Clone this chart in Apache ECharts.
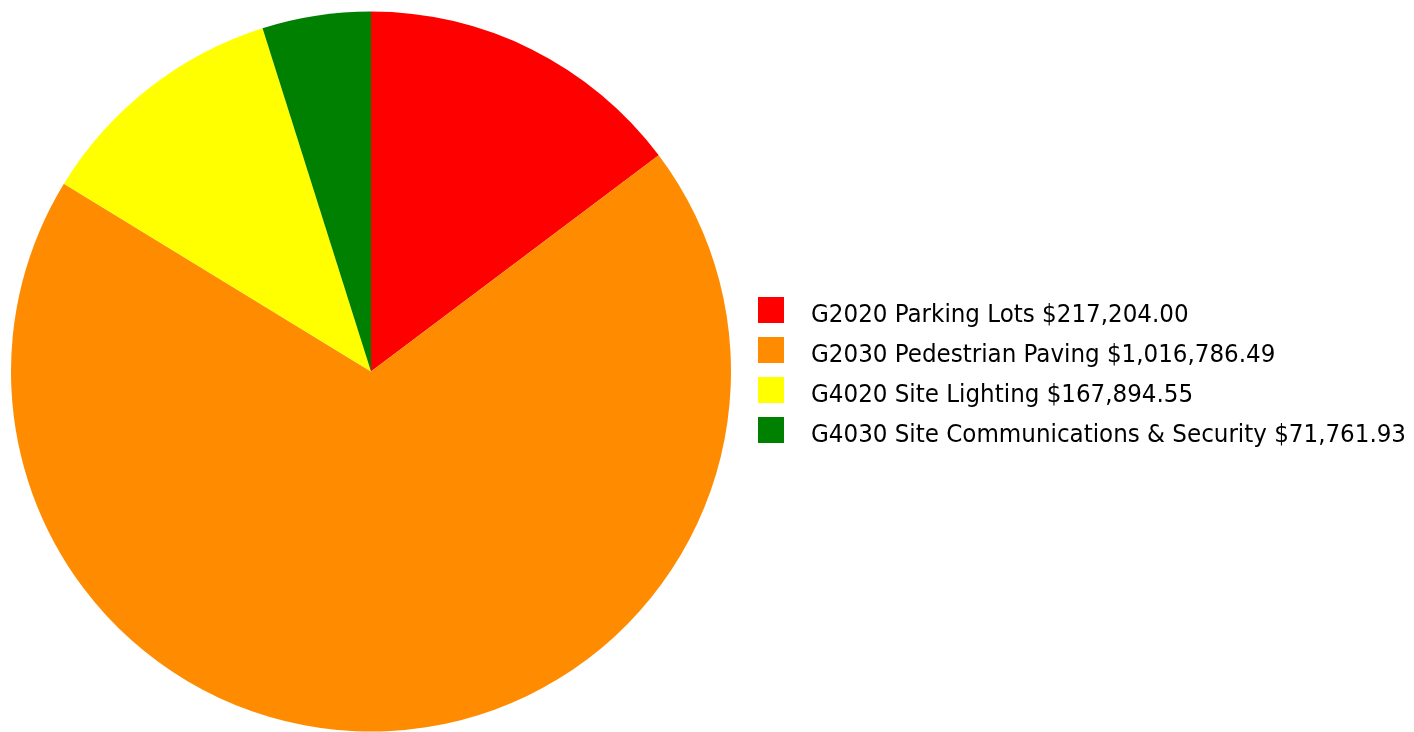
<!DOCTYPE html>
<html>
<head>
<meta charset="utf-8">
<style>
  html, body { margin: 0; padding: 0; background: #ffffff; }
  #chart { width: 1414px; height: 732px; }
</style>
<script src="https://cdn.jsdelivr.net/npm/echarts@6/dist/echarts.min.js"></script>
</head>
<body>
<div id="chart"></div>
<script>
// Cost breakdown by element
const categories = [
  'G2020 Parking Lots',
  'G2030 Pedestrian Paving',
  'G4020 Site Lighting',
  'G4030 Site Communications & Security'
];
const costs = [217204.00, 1016786.49, 167894.55, 71761.93];
const colors = ['#ff0000', '#ff8c00', '#ffff00', '#008000'];

function money(v) {
  const parts = v.toFixed(2).split('.');
  parts[0] = parts[0].replace(/\B(?=(\d{3})+(?!\d))/g, ',');
  return '$' + parts.join('.');
}

const valueByName = {};
categories.forEach((c, i) => { valueByName[c] = costs[i]; });

const labelFont = {
  fontFamily: 'DejaVu Sans Condensed',
  fontSize: 25.6,
  lineHeight: 26,
  color: '#000000'
};

const chart = echarts.init(document.getElementById('chart'), null, { renderer: 'canvas' });
chart.setOption({
  animation: false,
  color: colors,
  legend: {
    orient: 'vertical',
    left: 758,
    top: 292,
    padding: 0,
    itemWidth: 26,
    itemHeight: 26,
    itemGap: 4,
    icon: 'rect',
    selectedMode: false,
    textStyle: Object.assign({
      padding: [0, 0, 0, 22],
      rich: {
        // top padding sits the label slightly below the swatch centre
        t: Object.assign({ padding: [10, 0, 0, 0] }, labelFont)
      }
    }, labelFont),
    formatter: name => '{t|' + name + ' ' + money(valueByName[name]) + '}',
    data: categories
  },
  series: [{
    type: 'pie',
    center: [371, 371.5],
    radius: 360,
    startAngle: 90,
    clockwise: true,
    label: { show: false },
    labelLine: { show: false },
    emphasis: { disabled: true },
    itemStyle: { borderWidth: 0 },
    data: categories.map((c, i) => ({ name: c, value: costs[i] }))
  }]
});
</script>
</body>
</html>
